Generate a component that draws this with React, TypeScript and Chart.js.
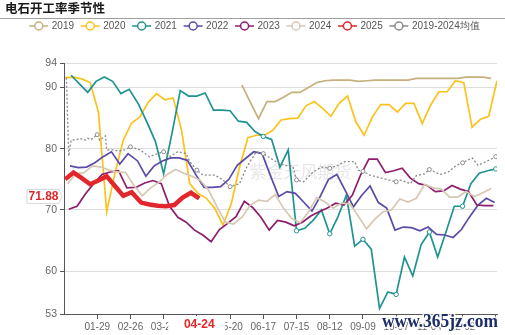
import React, { useEffect, useRef } from "react";
import { Chart, registerables } from "chart.js";

Chart.register(...registerables);

const TITLE = "电石开工率季节性";
const SERIES_NAMES = ["2019", "2020", "2021", "2022", "2023", "2024", "2025", "2019-2024均值"];
const SERIES_COLORS = ["#c5b07e", "#fcc21c", "#1f9392", "#5b4ba7", "#8d1d6d", "#d6c8b3", "#e1262c", "#8a8a8a"];

// first weekly report date of each year (one point per week from there)
const FIRST_DATES = ["2019-05-30", "2020-01-02", "2021-01-07", "2022-01-06", "2023-01-05", "2024-01-04", "2025-01-02"];

const VALUES_2019 = [90.4, 87.6, 84.9, 87.7, 87.7, 88.4, 89.2, 89.2, 90.0, 90.8, 91.1, 91.2, 91.2, 91.2, 91.0, 91.1, 91.2, 91.2, 91.2, 91.2, 91.2, 91.5, 91.5, 91.5, 91.5, 91.5, 91.5, 91.7, 91.7, 91.7, 91.5];
const VALUES_2020 = [91.6, 91.7, 91.4, 90.8, 86.0, 69.7, 76.0, 81.4, 84.2, 85.2, 87.6, 89.0, 88.0, 88.3, 83.1, 74.3, 72.7, 71.9, 70.3, 67.5, 71.0, 77.0, 81.8, 82.2, 82.2, 83.0, 84.7, 84.9, 85.0, 87.0, 87.7, 86.6, 85.3, 87.4, 88.6, 84.4, 82.2, 85.2, 87.2, 87.2, 86.0, 87.4, 87.4, 84.1, 87.1, 89.3, 89.3, 91.1, 90.8, 83.5, 84.8, 85.3, 91.1];
const VALUES_2021 = [92.0, 90.6, 89.2, 91.0, 91.7, 91.0, 89.0, 89.7, 87.2, 84.3, 81.2, 75.9, 82.5, 89.5, 88.6, 88.6, 89.1, 86.3, 86.3, 86.2, 84.5, 84.3, 82.8, 82.0, 81.5, 77.0, 79.8, 66.6, 67.0, 68.3, 70.0, 66.1, 68.9, 72.4, 64.1, 65.2, 63.6, 53.9, 56.6, 56.2, 62.3, 59.2, 64.3, 66.4, 62.3, 66.4, 70.6, 70.6, 74.3, 76.0, 76.4, 76.7];
const VALUES_2022 = [77.2, 76.9, 77.0, 77.7, 78.7, 79.5, 77.5, 79.2, 78.0, 75.5, 77.2, 78.0, 78.5, 78.5, 78.1, 75.8, 73.7, 73.7, 73.8, 75.0, 77.3, 78.4, 79.5, 79.2, 75.6, 72.2, 73.0, 72.7, 71.3, 69.8, 72.2, 75.0, 75.8, 73.2, 70.5, 72.4, 73.9, 71.2, 70.3, 66.7, 67.2, 67.1, 66.6, 67.2, 66.0, 65.9, 65.5, 66.8, 68.9, 70.8, 71.9, 71.2];
const VALUES_2023 = [70.1, 70.6, 72.6, 74.3, 75.8, 76.2, 76.4, 73.6, 73.7, 74.4, 74.8, 74.3, 70.6, 68.8, 68.0, 66.7, 65.9, 64.8, 66.8, 67.8, 68.9, 71.4, 70.4, 68.8, 66.7, 68.3, 68.0, 67.4, 68.0, 69.0, 69.7, 70.3, 71.1, 70.8, 72.4, 75.7, 78.3, 78.3, 76.1, 76.4, 76.8, 75.2, 74.3, 74.0, 73.0, 73.1, 74.0, 73.4, 73.0, 70.8, 70.7, 70.7];
const VALUES_2024 = [74.3, 75.9, 76.1, 77.2, 77.0, 76.5, 76.2, 76.1, 74.0, 72.3, 73.6, 74.5, 75.8, 76.6, 76.0, 75.5, 74.8, 73.2, 70.5, 68.0, 67.7, 68.8, 70.8, 71.6, 71.4, 72.5, 70.3, 68.6, 67.9, 69.6, 72.0, 71.3, 70.3, 71.1, 71.0, 69.0, 66.9, 68.5, 69.7, 70.0, 71.8, 71.3, 71.9, 74.2, 73.6, 73.4, 72.1, 72.1, 73.0, 72.2, 72.8, 73.5];
const VALUES_2025 = [75.0, 76.1, 75.2, 74.2, 74.8, 75.5, 73.9, 72.3, 72.9, 71.2, 70.9, 70.7, 70.6, 70.8, 72.0, 72.8, 71.88];

// 2019-2024 average, on the day-of-year categories (2024 calendar, 0 = 01-01)
const AVG_DAYS = [2, 4, 6, 11, 13, 18, 20, 23, 28, 30, 35, 36, 42, 46, 51, 56, 64, 72, 79, 84, 89, 96, 103, 106, 112, 117, 127, 134, 140, 148, 154, 162, 168, 176, 182, 186, 193, 196, 202, 210, 217, 224, 231, 237, 245, 248, 252, 258, 266, 280, 283, 292, 297, 304, 308, 317, 324, 331, 336, 344, 349, 356, 364];
const AVG_VALUES = [91.6, 78.8, 81.4, 81.5, 81.7, 81.4, 81.7, 81.5, 82.3, 81.4, 82.1, 79.8, 79.8, 79.6, 79.8, 80.3, 79.8, 78.7, 79.2, 79.5, 78.7, 79.5, 79.2, 77.9, 76.5, 75.7, 75.7, 74.9, 73.8, 74.3, 77.0, 79.5, 79.2, 78.2, 77.5, 77.3, 77.1, 74.9, 74.6, 76.2, 77.0, 76.8, 77.3, 77.9, 77.9, 76.5, 76.3, 75.7, 75.3, 74.6, 74.9, 74.3, 75.6, 75.9, 76.6, 75.8, 76.2, 77.3, 77.7, 78.5, 77.3, 77.9, 78.7];

const X_TICK_LABELS = ["01-29", "02-26", "03-25", "04-22", "05-20", "06-17", "07-15", "08-12", "09-09", "10-07", "11-04", "12-02", "12-30"];
const X_HIDDEN_LABELS = ["12-30"];
const Y_TICKS = [53, 60, 70, 80, 90, 94];
const LATEST_DATE = "04-24";
const LATEST_VALUE = 71.88;
const MARKED_FROM_2021 = "06-17"; // 2021 symbols shown from this label on
const WATERMARK = "紫金天风期货";
const SITE_MARK = "www.365jz.com";

const DAY_MS = 86400000;
const BASE = Date.UTC(2024, 0, 1);
const mmddToDay = (s: string) => {
  const [m, d] = s.split("-").map(Number);
  return Math.round((Date.UTC(2024, m - 1, d) - BASE) / DAY_MS);
};
const dayToMmdd = (day: number) => {
  const dt = new Date(BASE + day * DAY_MS);
  const m = String(dt.getUTCMonth() + 1).padStart(2, "0");
  const d = String(dt.getUTCDate()).padStart(2, "0");
  return `${m}-${d}`;
};
const weeklyDays = (first: string, n: number) => {
  const [y, m, d] = first.split("-").map(Number);
  const out: number[] = [];
  for (let k = 0; k < n; k++) {
    const dt = new Date(Date.UTC(y, m - 1, d + 7 * k));
    out.push(mmddToDay(`${dt.getUTCMonth() + 1}-${dt.getUTCDate()}`));
  }
  return out;
};

const YEAR_VALUES = [VALUES_2019, VALUES_2020, VALUES_2021, VALUES_2022, VALUES_2023, VALUES_2024, VALUES_2025];

const FONT = '"Liberation Sans", Arial, sans-serif';

const chromePlugin = {
  id: "chrome",
  beforeDatasetsDraw(chart: any) {
    const ctx = chart.ctx;
    const area = chart.chartArea;
    ctx.save();
    ctx.font = '17px "Noto Sans CJK SC"';
    ctx.fillStyle = "rgba(170,170,170,0.28)";
    ctx.textAlign = "center";
    ctx.textBaseline = "middle";
    ctx.fillText(WATERMARK, (area.left + area.right) / 2 + 20, 172);
    ctx.restore();
  },
  afterDraw(chart: any) {
    const ctx = chart.ctx;
    const xs = chart.scales.x;
    const ys = chart.scales.y;
    ctx.save();
    // title
    ctx.font = 'bold 12.5px "Noto Sans CJK SC"';
    ctx.fillStyle = "#1a1a1a";
    ctx.textAlign = "left";
    ctx.textBaseline = "middle";
    ctx.fillText(TITLE, 5, 8);
    ctx.strokeStyle = "#a0a0a0";
    ctx.lineWidth = 1;
    ctx.beginPath();
    ctx.moveTo(0, 18.5);
    ctx.lineTo(505, 18.5);
    ctx.stroke();

    // legend
    ctx.font = `10px ${FONT}`;
    const markW = 19, gapT = 3.5, gapI = 6.7;
    const widths = SERIES_NAMES.map((n) => markW + gapT + ctx.measureText(n).width);
    const total = widths.reduce((a, b) => a + b, 0) + gapI * (widths.length - 1);
    let x = 254.5 - total / 2;
    const ly = 26;
    SERIES_NAMES.forEach((name, i) => {
      const c = SERIES_COLORS[i];
      ctx.strokeStyle = c;
      ctx.lineWidth = 1.5;
      ctx.beginPath();
      ctx.moveTo(x, ly);
      ctx.lineTo(x + markW, ly);
      ctx.stroke();
      ctx.beginPath();
      ctx.arc(x + markW / 2, ly, 4, 0, Math.PI * 2);
      ctx.fillStyle = "#fff";
      ctx.fill();
      ctx.stroke();
      ctx.fillStyle = "#555";
      ctx.textAlign = "left";
      ctx.fillText(name, x + markW + gapT, ly + 0.5);
      x += widths[i] + gapI;
    });

    // latest date label on x axis
    const px = xs.getPixelForValue(mmddToDay(LATEST_DATE));
    ctx.fillStyle = "#fff";
    ctx.fillRect(px - 31, xs.top + 2, 57, 19);
    ctx.font = `bold 12px ${FONT}`;
    ctx.fillStyle = "#e1262c";
    ctx.textAlign = "center";
    ctx.textBaseline = "middle";
    ctx.fillText(LATEST_DATE, px, xs.top + 10.5);

    // latest value label on y axis
    const py = ys.getPixelForValue(LATEST_VALUE) - 2;
    const bx = 27, bw = 32, bh = 14;
    ctx.beginPath();
    ctx.moveTo(bx, py - bh / 2);
    ctx.lineTo(bx + bw, py - bh / 2);
    ctx.lineTo(bx + bw + 3, py);
    ctx.lineTo(bx + bw, py + bh / 2);
    ctx.lineTo(bx, py + bh / 2);
    ctx.closePath();
    ctx.fillStyle = "#fff";
    ctx.fill();
    ctx.strokeStyle = "#d8d8d8";
    ctx.lineWidth = 1;
    ctx.stroke();
    ctx.fillStyle = "#e1262c";
    ctx.font = `bold 12px ${FONT}`;
    ctx.fillText(LATEST_VALUE.toFixed(2), bx + bw / 2 + 0.5, py + 0.5);

    // site watermark
    ctx.font = 'bold 18px "Liberation Serif", serif';
    ctx.textAlign = "left";
    ctx.textBaseline = "middle";
    ctx.lineWidth = 3;
    ctx.strokeStyle = "rgba(255,255,255,0.85)";
    ctx.strokeText(SITE_MARK, 382, 322, 116);
    ctx.fillStyle = "#1d2d68";
    ctx.fillText(SITE_MARK, 382, 322, 116);
    ctx.restore();
  },
};

export default function App() {
  const ref = useRef<HTMLCanvasElement | null>(null);
  useEffect(() => {
    document.body.style.margin = "0";
    const canvas = ref.current!;
    const markFrom = mmddToDay(MARKED_FROM_2021);
    const datasets: any[] = YEAR_VALUES.map((vals, i) => {
      const days = weeklyDays(FIRST_DATES[i], vals.length);
      const isLatest = i === 6;
      return {
        label: SERIES_NAMES[i],
        data: vals.map((v, k) => ({ x: days[k], y: v })),
        borderColor: SERIES_COLORS[i],
        backgroundColor: SERIES_COLORS[i],
        borderWidth: isLatest ? 4.5 : 1.7,
        pointRadius: i === 2 ? (c: any) => (c.raw && c.raw.x % 28 === 0 && c.raw.x >= markFrom ? 2.2 : 0) : 0,
        pointBackgroundColor: "#fff",
        pointBorderColor: SERIES_COLORS[i],
        pointBorderWidth: 1,
        tension: 0,
        order: 10 - i,
      };
    });
    datasets.push({
      label: SERIES_NAMES[7],
      data: AVG_DAYS.map((d, k) => ({ x: d, y: AVG_VALUES[k] })),
      borderColor: SERIES_COLORS[7],
      borderWidth: 1.3,
      borderDash: [2, 2],
      pointRadius: (c: any) => (c.raw && c.raw.x % 28 === 0 ? 2 : 0),
      pointBackgroundColor: "#fff",
      pointBorderColor: SERIES_COLORS[7],
      pointBorderWidth: 1,
      tension: 0,
      order: 1,
    });

    const tickDays = X_TICK_LABELS.map(mmddToDay);

    const chart = new Chart(canvas, {
      type: "line",
      data: { datasets },
      options: {
        responsive: false,
        animation: false,
        devicePixelRatio: 1,
        layout: { padding: { top: 63, right: 8, left: 0, bottom: 0 } },
        plugins: { legend: { display: false }, tooltip: { enabled: false }, title: { display: false } },
        scales: {
          x: {
            type: "linear",
            min: 0,
            max: 365,
            afterBuildTicks: (s: any) => {
              s.ticks = tickDays.map((v) => ({ value: v }));
            },
            afterFit: (s: any) => {
              s.height = 21;
            },
            ticks: {
              autoSkip: false,
              maxRotation: 0,
              padding: 2,
              color: "#666",
              font: { size: 10, family: FONT },
              callback: (v: any) => {
                const l = dayToMmdd(Number(v));
                return X_HIDDEN_LABELS.includes(l) ? "" : l;
              },
            },
            grid: { drawOnChartArea: false, drawTicks: true, tickLength: 5, tickColor: "#555", color: "#555" },
            border: { color: "#555", width: 1 },
          },
          y: {
            type: "linear",
            min: 53,
            max: 94,
            afterBuildTicks: (s: any) => {
              s.ticks = Y_TICKS.map((v) => ({ value: v }));
            },
            afterFit: (s: any) => {
              s.width = 64;
            },
            ticks: {
              padding: 3,
              color: "#666",
              font: { size: 10.5, family: FONT },
            },
            grid: {
              color: (c: any) => (c.tick && c.tick.value === 53 ? "rgba(0,0,0,0)" : "#dedede"),
              tickColor: "#555",
              tickLength: 4,
              lineWidth: 1,
            },
            border: { color: "#555", width: 1 },
          },
        },
      },
      plugins: [chromePlugin],
    });
    return () => chart.destroy();
  }, []);
  return (
    <div style={{ width: 505, height: 335, background: "#fff" }}>
      <canvas ref={ref} width={505} height={335} style={{ display: "block", width: 505, height: 335 }} />
    </div>
  );
}
